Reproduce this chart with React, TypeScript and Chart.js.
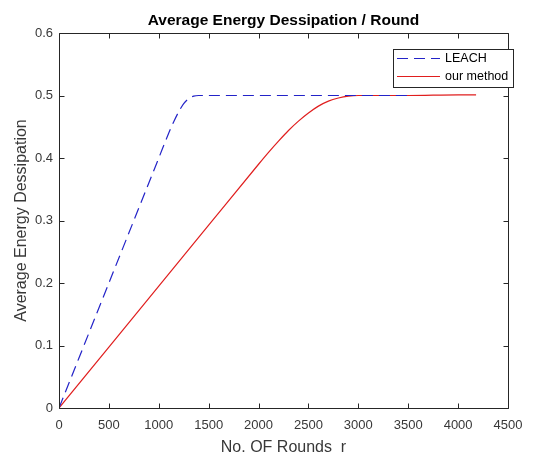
import React, { useEffect, useRef } from "react";
import { Chart, registerables } from "chart.js";

Chart.register(...registerables);

const titleText = "Average Energy Dessipation / Round";
const xTitle = "No. OF Rounds  r";
const yTitle = "Average Energy Dessipation";
const seriesNames = ["LEACH", "our method"];

const leachX = [0, 200, 400, 600, 800, 1000, 1100, 1150, 1200, 1250, 1300, 1350, 1400, 1500, 2000, 2500, 3000, 3500];
const leachY = [0, 0.08, 0.16, 0.24, 0.32, 0.4, 0.44, 0.458, 0.474, 0.487, 0.495, 0.499, 0.5, 0.5, 0.5, 0.5, 0.5, 0.5];

const ourX = [0, 500, 1000, 1500, 2000, 2100, 2200, 2300, 2400, 2500, 2600, 2700, 2800, 2900, 3000, 3500, 4000, 4180];
const ourY = [0, 0.0975, 0.195, 0.2925, 0.39, 0.409, 0.427, 0.444, 0.459, 0.472, 0.483, 0.491, 0.496, 0.499, 0.5, 0.5, 0.501, 0.501];

const xMin = 0;
const xMax = 4500;
const xStep = 500;
const yMin = 0;
const yMax = 0.6;
const yStep = 0.1;

const FONT = "'Liberation Sans', Arial, Helvetica, sans-serif";
const AXIS_COLOR = "#262626";
const TEXT_COLOR = "#383838";
const BLUE = "#2323c8";
const RED = "#e01e1e";

const boxPlugin = {
  id: "matlabBox",
  afterDraw(chart: any) {
    const { ctx, chartArea, scales } = chart;
    const { left, right, top, bottom } = chartArea;
    ctx.save();
    ctx.strokeStyle = AXIS_COLOR;
    ctx.lineWidth = 1;
    const L = Math.round(left) + 0.5;
    const R = Math.round(right) + 0.5;
    const T = Math.round(top) + 0.5;
    const B = Math.round(bottom) + 0.5;
    ctx.beginPath();
    ctx.rect(L, T, R - L, B - T);
    ctx.stroke();
    const tl = 5;
    ctx.beginPath();
    scales.x.ticks.forEach((t: any) => {
      const px = Math.round(scales.x.getPixelForValue(t.value)) + 0.5;
      ctx.moveTo(px, B);
      ctx.lineTo(px, B - tl);
      ctx.moveTo(px, T);
      ctx.lineTo(px, T + tl);
    });
    scales.y.ticks.forEach((t: any) => {
      const py = Math.round(scales.y.getPixelForValue(t.value)) + 0.5;
      ctx.moveTo(L, py);
      ctx.lineTo(L + tl, py);
      ctx.moveTo(R, py);
      ctx.lineTo(R - tl, py);
    });
    ctx.stroke();

    // legend
    const lx = 393.5;
    const ly = 49.5;
    const lw = 120;
    const lh = 38;
    ctx.fillStyle = "#ffffff";
    ctx.fillRect(lx, ly, lw, lh);
    ctx.strokeStyle = AXIS_COLOR;
    ctx.strokeRect(lx, ly, lw, lh);
    const rows = [
      { name: seriesNames[0], color: BLUE, dash: [11, 6] },
      { name: seriesNames[1], color: RED, dash: [] as number[] },
    ];
    ctx.font = `12.5px ${FONT}`;
    ctx.textBaseline = "middle";
    ctx.textAlign = "left";
    rows.forEach((r, i) => {
      const y = 58.5 + i * 18;
      ctx.strokeStyle = r.color;
      ctx.lineWidth = 1.2;
      ctx.setLineDash(r.dash);
      ctx.beginPath();
      ctx.moveTo(397, y);
      ctx.lineTo(440, y);
      ctx.stroke();
      ctx.setLineDash([]);
      ctx.fillStyle = "#000000";
      ctx.fillText(r.name, 445, y);
    });
    ctx.restore();
  },
};

export default function App() {
  const ref = useRef<HTMLCanvasElement>(null);

  useEffect(() => {
    document.body.style.margin = "0";
    const canvas = ref.current;
    if (!canvas) return;
    const chart = new Chart(canvas, {
      type: "line",
      data: {
        datasets: [
          {
            label: seriesNames[0],
            data: leachX.map((x, i) => ({ x, y: leachY[i] })),
            borderColor: BLUE,
            borderWidth: 1.2,
            borderDash: [11, 6],
            pointRadius: 0,
            cubicInterpolationMode: "monotone",
            fill: false,
            order: 0,
          },
          {
            label: seriesNames[1],
            data: ourX.map((x, i) => ({ x, y: ourY[i] })),
            borderColor: RED,
            borderWidth: 1.2,
            pointRadius: 0,
            cubicInterpolationMode: "monotone",
            fill: false,
            order: 1,
          },
        ],
      },
      options: {
        responsive: false,
        animation: false,
        devicePixelRatio: 1,
        layout: { padding: { left: 0, right: 34, top: 0, bottom: 0 } },
        plugins: {
          legend: { display: false },
          tooltip: { enabled: false },
          title: {
            display: true,
            fullSize: false,
            text: titleText,
            color: "#000000",
            font: { family: FONT, size: 15.5, weight: "bold" },
            padding: { top: 11, bottom: 3.4 },
          },
        },
        scales: {
          x: {
            type: "linear",
            min: xMin,
            max: xMax,
            grid: { display: false, drawTicks: false },
            border: { display: false },
            ticks: {
              stepSize: xStep,
              padding: 10,
              color: TEXT_COLOR,
              font: { family: FONT, size: 13 },
              maxRotation: 0,
              autoSkip: false,
              callback: (v: any) => String(Math.round(Number(v))),
            },
            title: {
              display: true,
              text: xTitle,
              color: TEXT_COLOR,
              font: { family: FONT, size: 16 },
              padding: { top: 0, bottom: -1 },
            },
            afterFit: (s: any) => {
              s.height = 48;
            },
          },
          y: {
            type: "linear",
            min: yMin,
            max: yMax,
            grid: { display: false, drawTicks: false },
            border: { display: false },
            ticks: {
              stepSize: yStep,
              padding: 6,
              color: TEXT_COLOR,
              font: { family: FONT, size: 13 },
              autoSkip: false,
              callback: (v: any) => String(Math.round(Number(v) * 10) / 10),
            },
            title: {
              display: true,
              text: yTitle,
              color: TEXT_COLOR,
              font: { family: FONT, size: 16 },
              padding: { top: 12, bottom: 0 },
            },
            afterFit: (s: any) => {
              s.width = 59;
            },
          },
        },
      },
      plugins: [boxPlugin],
    });
    return () => chart.destroy();
  }, []);

  return (
    <div style={{ width: 542, height: 456, background: "#ffffff" }}>
      <canvas ref={ref} width={542} height={456} style={{ display: "block" }} />
    </div>
  );
}
